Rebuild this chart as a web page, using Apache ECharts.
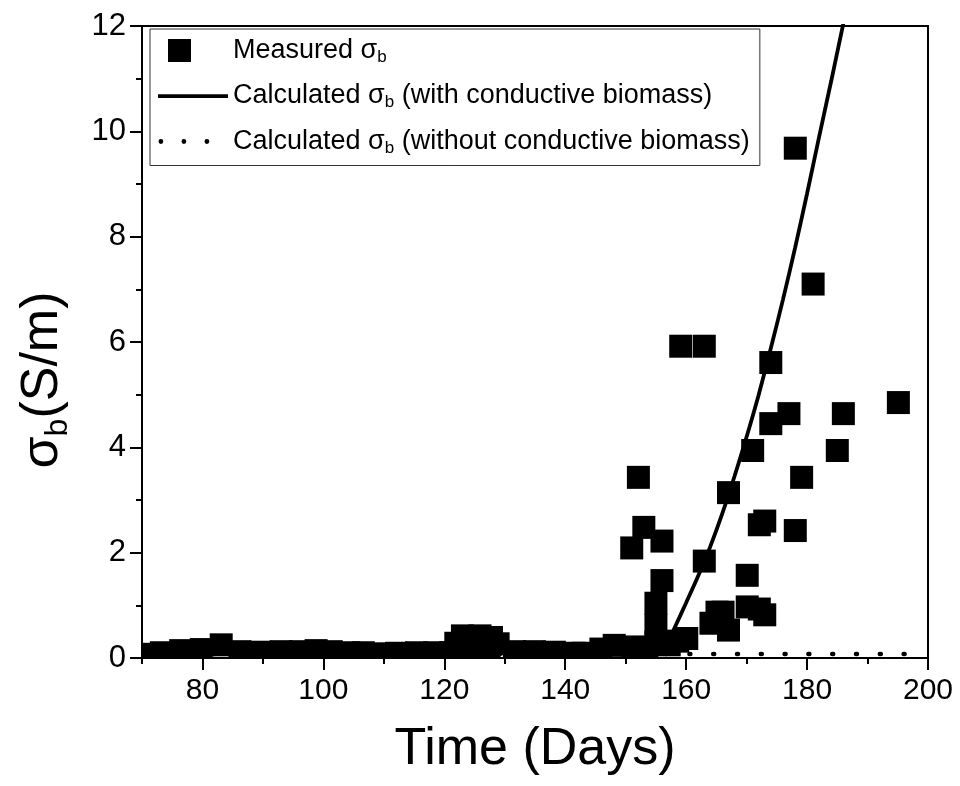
<!DOCTYPE html>
<html><head><meta charset="utf-8">
<script src="https://cdn.jsdelivr.net/npm/echarts@6/dist/echarts.min.js"></script>
<style>html,body{margin:0;padding:0;background:#fff}#c{width:960px;height:786px}</style>
</head><body><div id="c"></div>
<script>
// ---- data ----
const seriesNames = ['Measured σb', 'Calculated σb (with conductive biomass)', 'Calculated σb (without conductive biomass)'];
const measuredDays = [70.6, 73.2, 76.4, 79.8, 83.1, 86.2, 89.6, 93.0, 96.2, 98.8, 101.3, 104.2, 106.6, 109.2, 112.1, 115.4, 118.4,
  121.0, 124.2, 127.4, 121.9, 123.0, 125.9, 127.8, 128.9, 131.6, 134.9, 138.2, 141.5, 143.0, 145.9, 148.1, 151.2, 153.5, 155.0, 157.2, 158.6, 160.1,
  151.0, 152.1, 153.0, 155.0, 155.0, 156.0, 156.0, 159.1, 163.0, 163.0, 164.1, 165.1, 166.1, 167.0, 167.0, 170.1, 170.1, 171.0,
  172.1, 173.0, 172.1, 173.0, 174.0, 174.0, 177.0, 178.05, 178.05, 179.1, 181.0, 185.0, 186.0, 195.1];
const measuredValues = [0.07, 0.10, 0.14, 0.16, 0.25, 0.12, 0.11, 0.12, 0.12, 0.14, 0.12, 0.10, 0.10, 0.08, 0.09, 0.10, 0.10,
  0.10, 0.15, 0.15, 0.28, 0.42, 0.42, 0.39, 0.27, 0.12, 0.12, 0.11, 0.09, 0.09, 0.17, 0.24, 0.21, 0.20, 0.30, 0.25, 0.32, 0.37,
  2.09, 3.43, 2.48, 1.04, 0.62, 2.22, 1.47, 5.92, 5.92, 1.84, 0.66, 0.87, 0.87, 0.53, 3.14, 1.57, 0.97, 3.94,
  2.53, 2.60, 0.93, 0.82, 5.61, 4.45, 4.64, 9.68, 2.42, 3.43, 7.10, 3.94, 4.64, 4.85];
const curveDays = [156, 158, 160, 162, 164, 166, 168, 170, 172, 174, 176, 178, 180, 182, 184, 186];
const curveValues = [0.05, 0.55, 1.05, 1.56, 2.12, 2.75, 3.45, 4.20, 5.00, 5.88, 6.80, 7.78, 8.82, 9.90, 10.96, 12.05];
const noBiomassDays = [70, 196.3];
const noBiomassValues = [0.075, 0.075];
const xLabelTicks = [80, 100, 120, 140, 160, 180, 200];

// ---- chart ----
const FONT = '"Liberation Sans", Arial, sans-serif';
const zip = (a, b) => a.map((v, i) => [v, b[i]]);
const chart = echarts.init(document.getElementById('c'), null, { renderer: 'canvas' });
const black = '#000';
const richTitle = {
  t: { fontFamily: FONT, fontSize: 52, color: black, lineHeight: 62 },
  s: { fontFamily: FONT, fontSize: 32, color: black, lineHeight: 32, verticalAlign: 'bottom' }
};
const richLegend = {
  t: { fontFamily: FONT, fontSize: 27, color: black, lineHeight: 30 },
  s: { fontFamily: FONT, fontSize: 17, color: black, lineHeight: 17, verticalAlign: 'bottom' }
};
const dot = (cx) => 'M' + cx + ',11.5a2.4,2.4 0 1,0 4.8,0a2.4,2.4 0 1,0 -4.8,0z';
const option = {
  animation: false,
  backgroundColor: '#fff',
  grid: { left: 142, top: 26, width: 786, height: 632, show: true, borderColor: black, borderWidth: 2, z: 0 },
  xAxis: [
    {
      type: 'value', min: 70, max: 200, interval: 10, z: 10,
      axisLine: { show: true, lineStyle: { color: black, width: 2 } },
      axisTick: { show: true, inside: false, length: 6, lineStyle: { color: black, width: 2 } },
      axisLabel: { show: false }, splitLine: { show: false },
      name: 'Time (Days)', nameLocation: 'middle', nameGap: 66,
      nameTextStyle: { fontFamily: FONT, fontSize: 52, color: black }
    },
    {
      type: 'value', min: 70, max: 200, position: 'bottom', z: 10,
      axisLine: { show: false },
      axisTick: { show: true, customValues: xLabelTicks, length: 12, lineStyle: { color: black, width: 2 } },
      axisLabel: { show: true, customValues: xLabelTicks, margin: 18, fontFamily: FONT, fontSize: 30, color: black },
      splitLine: { show: false }
    }
  ],
  yAxis: [
    {
      type: 'value', min: 0, max: 12, interval: 1, z: 10,
      axisLine: { show: true, lineStyle: { color: black, width: 2 } },
      axisTick: { show: true, inside: false, length: 6, lineStyle: { color: black, width: 2 } },
      axisLabel: { show: false }, splitLine: { show: false },
      name: '{t|σ}{s|b}{t|(S/m)}', nameLocation: 'middle', nameGap: 68, nameRotate: 90,
      nameTextStyle: { padding: [0, 76, 0, 0], rich: richTitle }
    },
    {
      type: 'value', min: 0, max: 12, interval: 2, position: 'left', z: 10,
      axisLine: { show: false },
      axisTick: { show: true, inside: false, length: 12, lineStyle: { color: black, width: 2 } },
      axisLabel: { show: true, margin: 16, fontFamily: FONT, fontSize: 31, color: black },
      splitLine: { show: false }
    }
  ],
  legend: {
    orient: 'vertical', left: 150, top: 29, padding: [8, 10, 9, 8],
    itemWidth: 70, itemHeight: 23, itemGap: 17,
    borderColor: '#333', borderWidth: 1,
    itemStyle: { color: black, borderWidth: 0 },
    data: [
      { name: seriesNames[0], icon: 'path://M0,0M70,23M10,0h23v23h-23z' },
      { name: seriesNames[1], icon: 'path://M0,0M70,23M0,9.8h70v3.6h-70z' },
      { name: seriesNames[2], icon: 'path://M0,0M70,23' + dot(0.5) + dot(23.5) + dot(46.5) }
    ],
    formatter: (name) => '{t|' + name.replace('σb', 'σ}{s|b}{t|') + '}',
    textStyle: { rich: richLegend }
  },
  graphic: [
    { type: 'rect', z: 5, shape: { x: 90, y: 659, width: 860, height: 12 }, style: { fill: '#fff' }, silent: true },
    { type: 'rect', z: 5, shape: { x: 90, y: 0, width: 51.5, height: 671 }, style: { fill: '#fff' }, silent: true }
  ],
  series: [
    {
      name: seriesNames[2], type: 'line', z: 1, symbol: 'none', color: black,
      data: zip(noBiomassDays, noBiomassValues),
      itemStyle: { color: black },
      lineStyle: { color: black, width: 4.5, type: [1, 22.8], cap: 'round' }
    },
    {
      name: seriesNames[1], type: 'line', z: 3, symbol: 'none', smooth: 0.3, color: black,
      data: zip(curveDays, curveValues),
      itemStyle: { color: black },
      lineStyle: { color: black, width: 3.8 }
    },
    {
      name: seriesNames[0], type: 'scatter', z: 2, symbol: 'rect', symbolSize: 23, color: black,
      data: zip(measuredDays, measuredValues),
      itemStyle: { color: black, opacity: 1 }
    }
  ]
};
chart.setOption(option);
</script>
</body></html>
